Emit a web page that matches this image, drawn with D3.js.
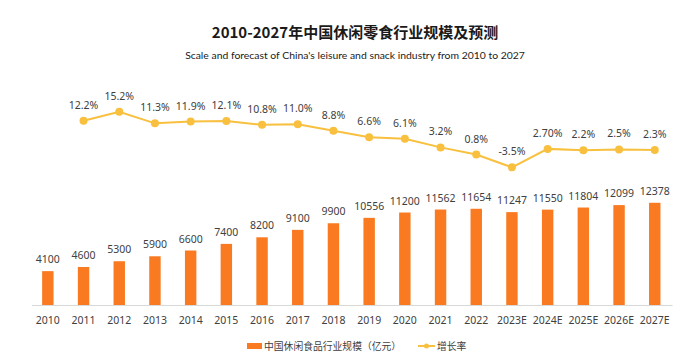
<!DOCTYPE html>
<html>
<head>
<meta charset="utf-8">
<script src="https://cdn.jsdelivr.net/npm/d3@7"></script>
<style>
  html, body { margin: 0; padding: 0; background: #fff; }
  svg { display: block; }
</style>
</head>
<body>
<svg id="chart" width="700" height="364"></svg>
<script>
const categories = ["2010","2011","2012","2013","2014","2015","2016","2017","2018","2019","2020","2021","2022","2023E","2024E","2025E","2026E","2027E"];
const sizeValues = [4100,4600,5300,5900,6600,7400,8200,9100,9900,10556,11200,11562,11654,11247,11550,11804,12099,12378];
const growthValues = [null,12.2,15.2,11.3,11.9,12.1,10.8,11.0,8.8,6.6,6.1,3.2,0.8,-3.5,2.7,2.2,2.5,2.3];
const growthLabels = ["","12.2%","15.2%","11.3%","11.9%","12.1%","10.8%","11.0%","8.8%","6.6%","6.1%","3.2%","0.8%","-3.5%","2.70%","2.2%","2.5%","2.3%"];
const titleText = "2010-2027年中国休闲零食行业规模及预测";
const subtitleText = "Scale and forecast of China's leisure and snack industry from 2010 to 2027";
const legendLabels = ["中国休闲食品行业规模（亿元）", "增长率"];

const barColor = "#F97A20";
const lineColor = "#F8C03E";
const textColor = "#404040";
const numFont = "'Noto Sans', 'Open Sans', sans-serif";
const cjkFont = "'Noto Sans CJK SC', sans-serif";

const svg = d3.select("#chart");

const x = d3.scaleBand().domain(categories).range([30, 672.6]).paddingInner(0.68).paddingOuter(0.34);
const yBar = d3.scaleLinear().domain([0, 14000]).range([305, 189.4]);
const yLine = d3.scaleLinear().domain([-5, 20]).range([171.75, 97.5]);

// Title
svg.append("text").attr("x", 355).attr("y", 38).attr("text-anchor", "middle")
  .attr("font-family", cjkFont).attr("font-weight", "bold").attr("font-size", 15)
  .attr("fill", "#1a1a1a").text(titleText);
svg.append("text").attr("x", 355).attr("y", 59).attr("text-anchor", "middle")
  .attr("font-family", "Lato, 'Open Sans', sans-serif").attr("font-size", 10.4)
  .attr("fill", "#1a1a1a").text(subtitleText);

// X axis
const xAxis = svg.append("g").attr("transform", "translate(0,305)")
  .call(d3.axisBottom(x).tickSize(0).tickPadding(12));
xAxis.select(".domain").attr("stroke", "#d9d9d9").attr("d", "M32,0.5H672.6");
xAxis.selectAll("text").attr("font-family", numFont).attr("font-size", 10.5).attr("fill", textColor);

// Bars
svg.append("g").selectAll("rect").data(sizeValues).join("rect")
  .attr("x", (d, i) => x(categories[i]))
  .attr("y", d => yBar(d))
  .attr("width", x.bandwidth())
  .attr("height", d => yBar(0) - yBar(d))
  .attr("fill", barColor);

svg.append("g").selectAll("text").data(sizeValues).join("text")
  .attr("x", (d, i) => x(categories[i]) + x.bandwidth() / 2)
  .attr("y", d => yBar(d) - 8)
  .attr("text-anchor", "middle")
  .attr("font-family", numFont).attr("font-size", 10.5).attr("fill", textColor)
  .text(d => d);

// Growth line
const growthPts = growthValues.map((v, i) => ({ v, c: categories[i], label: growthLabels[i] })).filter(d => d.v !== null);
const line = d3.line().x(d => x(d.c) + x.bandwidth() / 2).y(d => yLine(d.v));
svg.append("path").datum(growthPts).attr("d", line)
  .attr("fill", "none").attr("stroke", lineColor).attr("stroke-width", 2);
svg.append("g").selectAll("circle").data(growthPts).join("circle")
  .attr("cx", d => x(d.c) + x.bandwidth() / 2)
  .attr("cy", d => yLine(d.v))
  .attr("r", 4).attr("fill", lineColor);
svg.append("g").selectAll("text").data(growthPts).join("text")
  .attr("x", d => x(d.c) + x.bandwidth() / 2)
  .attr("y", d => yLine(d.v) - 12)
  .attr("text-anchor", "middle")
  .attr("font-family", numFont).attr("font-size", 10.5).attr("fill", textColor)
  .text(d => d.label);

// Legend
const lg = svg.append("g");
lg.append("rect").attr("x", 247).attr("y", 343).attr("width", 15).attr("height", 6).attr("fill", barColor);
lg.append("text").attr("x", 264).attr("y", 350).attr("font-family", cjkFont).attr("font-size", 9.8)
  .attr("fill", textColor).text(legendLabels[0]);
lg.append("line").attr("x1", 418).attr("x2", 435).attr("y1", 346).attr("y2", 346)
  .attr("stroke", lineColor).attr("stroke-width", 2);
lg.append("circle").attr("cx", 426.5).attr("cy", 346).attr("r", 2.5).attr("fill", lineColor);
lg.append("text").attr("x", 437).attr("y", 350).attr("font-family", cjkFont).attr("font-size", 9.8)
  .attr("fill", textColor).text(legendLabels[1]);
</script>
</body>
</html>
